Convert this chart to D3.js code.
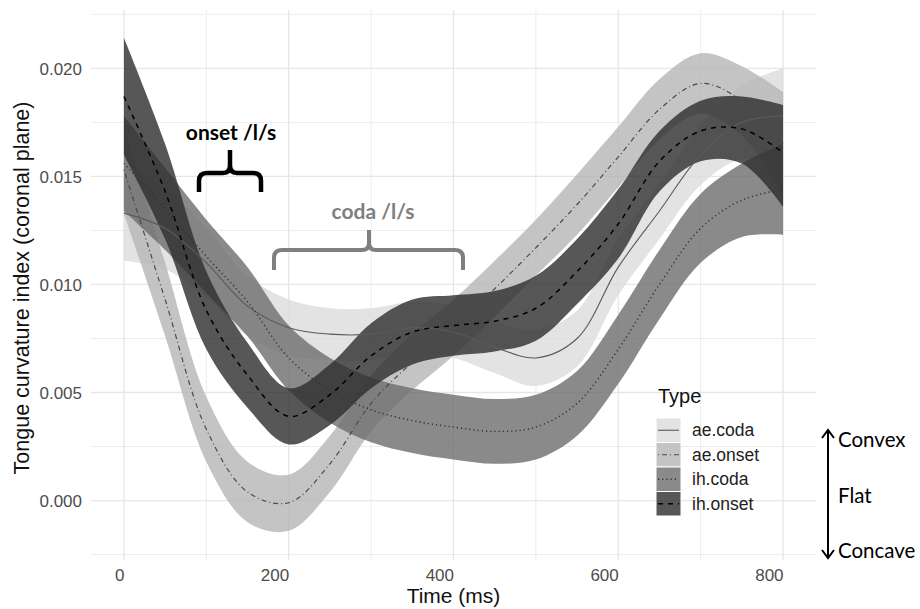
<!DOCTYPE html>
<html>
<head>
<meta charset="utf-8">
<script src="https://cdn.jsdelivr.net/npm/d3@7"></script>
<style>
  body { margin: 0; background: #fff; }
  svg { display: block; }
  .tick text { font-family: "Liberation Sans", Arial, sans-serif; }
</style>
</head>
<body>
<div id="chart"></div>
<script>
// values (Time in ms, curvature index)
var times = [0, 50, 100, 150, 200, 250, 300, 350, 400, 450, 500, 550, 600, 650, 700, 750, 800];
var types = ['ae.coda', 'ae.onset', 'ih.coda', 'ih.onset'];

var aeCodaMean  = [.0133, .0126, .0110, .0090, .0080, .0077, .0077, .0080, .0078, .0071, .0066, .0075, .0108, .0134, .0160, .0175, .0178];
var aeCodaLow   = [.0111, .0107, .0094, .0076, .0067, .0065, .0065, .0068, .0066, .0059, .0053, .0062, .0095, .0121, .0146, .0158, .0156];
var aeCodaHigh  = [.0155, .0145, .0126, .0104, .0093, .0089, .0089, .0092, .0090, .0083, .0079, .0088, .0121, .0147, .0174, .0192, .0200];

var aeOnsetMean = [.0153, .0093, .0033, .0004, -.0001, .0017, .0045, .0064, .0080, .0098, .0117, .0137, .0159, .0181, .0193, .0185, .0165];
var aeOnsetLow  = [.0133, .0076, .0018, -.0010, -.0014, .0004, .0032, .0051, .0067, .0085, .0104, .0123, .0145, .0167, .0179, .0169, .0141];
var aeOnsetHigh = [.0173, .0110, .0048, .0018, .0012, .0030, .0058, .0077, .0093, .0111, .0130, .0151, .0173, .0195, .0207, .0201, .0189];

var ihCodaMean  = [.0156, .0135, .0113, .0092, .0066, .0051, .0042, .0037, .0034, .0032, .0034, .0045, .0070, .0100, .0126, .0139, .0144];
var ihCodaLow   = [.0134, .0116, .0096, .0076, .0051, .0036, .0027, .0022, .0019, .0017, .0019, .0030, .0054, .0084, .0110, .0122, .0123];
var ihCodaHigh  = [.0178, .0154, .0130, .0108, .0081, .0066, .0057, .0052, .0049, .0047, .0049, .0060, .0086, .0116, .0142, .0156, .0165];

var ihOnsetMean = [.0187, .0143, .0088, .0058, .0039, .0049, .0067, .0078, .0081, .0083, .0089, .0106, .0128, .0157, .0171, .0172, .0161];
var ihOnsetLow  = [.0160, .0121, .0070, .0043, .0026, .0035, .0052, .0063, .0067, .0069, .0074, .0091, .0112, .0143, .0157, .0156, .0136];
var ihOnsetHigh = [.0214, .0165, .0106, .0073, .0052, .0063, .0082, .0093, .0095, .0097, .0104, .0121, .0144, .0171, .0185, .0187, .0183];

var xTicks = [0, 200, 400, 600, 800];
var yTicks = [0, 0.005, 0.010, 0.015, 0.020];

var W = 920, H = 609;
var margin = { top: 10, left: 91, bottom: 49, right: 104 };

var svg = d3.select('#chart').append('svg')
    .attr('width', W)
    .attr('height', H);

var x = d3.scaleLinear().domain([-40, 840]).range([margin.left, W - margin.right]);
var y = d3.scaleLinear().domain([-0.00275, 0.0227]).range([H - margin.bottom, margin.top]);

var series = [
    { type: 'ae.coda',  mean: aeCodaMean,  low: aeCodaLow,  high: aeCodaHigh,  fill: '#dcdcdc', line: '#5a5a5a', dash: null,      width: 1.1 },
    { type: 'ae.onset', mean: aeOnsetMean, low: aeOnsetLow, high: aeOnsetHigh, fill: '#b5b5b5', line: '#4a4a4a', dash: '1,3,5,3', width: 1.2 },
    { type: 'ih.coda',  mean: ihCodaMean,  low: ihCodaLow,  high: ihCodaHigh,  fill: '#6d6d6d', line: '#303030', dash: '1.2,3',   width: 1.4 },
    { type: 'ih.onset', mean: ihOnsetMean, low: ihOnsetLow, high: ihOnsetHigh, fill: '#2d2d2d', line: '#000000', dash: '5,5',     width: 1.5 }
];
var alpha = 0.8;

// grid
var grid = svg.append('g');
var xMinor = [100, 300, 500, 700];
var yMinor = [-0.0025, 0.0025, 0.0075, 0.0125, 0.0175, 0.0225];

grid.selectAll('.xminor').data(xMinor).enter().append('line')
    .attr('x1', d => x(d)).attr('x2', d => x(d))
    .attr('y1', y.range()[1]).attr('y2', y.range()[0])
    .attr('stroke', '#ececec').attr('stroke-width', 1);
grid.selectAll('.yminor').data(yMinor).enter().append('line')
    .attr('y1', d => y(d)).attr('y2', d => y(d))
    .attr('x1', x.range()[0]).attr('x2', x.range()[1])
    .attr('stroke', '#ececec').attr('stroke-width', 1);
grid.selectAll('.xmajor').data(xTicks).enter().append('line')
    .attr('x1', d => x(d)).attr('x2', d => x(d))
    .attr('y1', y.range()[1]).attr('y2', y.range()[0])
    .attr('stroke', '#e6e6e6').attr('stroke-width', 1.3);
grid.selectAll('.ymajor').data(yTicks).enter().append('line')
    .attr('y1', d => y(d)).attr('y2', d => y(d))
    .attr('x1', x.range()[0]).attr('x2', x.range()[1])
    .attr('stroke', '#e6e6e6').attr('stroke-width', 1.3);

// ribbons
var area = d3.area()
    .x(d => x(d.t))
    .y0(d => y(d.low))
    .y1(d => y(d.high))
    .curve(d3.curveCatmullRom.alpha(0.5));

var line = d3.line()
    .x(d => x(d.t))
    .y(d => y(d.mean))
    .curve(d3.curveCatmullRom.alpha(0.5));

function rows(s) {
    return times.map((t, i) => ({ t: t, mean: s.mean[i], low: s.low[i], high: s.high[i] }));
}

svg.append('g').selectAll('path')
    .data(series)
    .enter()
    .append('path')
    .attr('d', s => area(rows(s)))
    .attr('fill', s => s.fill)
    .attr('fill-opacity', alpha);

svg.append('g').selectAll('path')
    .data(series)
    .enter()
    .append('path')
    .attr('d', s => line(rows(s)))
    .attr('fill', 'none')
    .attr('stroke', s => s.line)
    .attr('stroke-width', s => s.width)
    .attr('stroke-dasharray', s => s.dash);

// axes
var xAxis = d3.axisBottom(x).tickValues(xTicks).tickSize(0).tickPadding(0).tickFormat(d3.format('d'));
var yAxis = d3.axisLeft(y).tickValues(yTicks).tickSize(0).tickPadding(0).tickFormat(d3.format('.3f'));

var gx = svg.append('g')
    .attr('transform', 'translate(0,' + (H - margin.bottom) + ')')
    .call(xAxis);
gx.select('.domain').remove();
gx.selectAll('text')
    .attr('y', 21)
    .attr('dy', 0)
    .attr('text-anchor', 'end')
    .attr('fill', '#4d4d4d')
    .style('font-size', '17px');

var gy = svg.append('g')
    .attr('transform', 'translate(82,0)')
    .call(yAxis);
gy.select('.domain').remove();
gy.selectAll('text')
    .attr('x', 0)
    .attr('dy', '0.36em')
    .attr('fill', '#4d4d4d')
    .style('font-size', '17px');

svg.append('text')
    .attr('x', (x.range()[0] + x.range()[1]) / 2)
    .attr('y', 603)
    .attr('text-anchor', 'middle')
    .style('font-family', '"Liberation Sans", Arial, sans-serif')
    .style('font-size', '21px')
    .attr('fill', '#111')
    .text('Time (ms)');

svg.append('text')
    .attr('transform', 'translate(29,' + ((y.range()[0] + y.range()[1]) / 2 + 3) + ') rotate(-90)')
    .attr('text-anchor', 'middle')
    .style('font-family', '"Liberation Sans", Arial, sans-serif')
    .style('font-size', '21.5px')
    .attr('fill', '#111')
    .text('Tongue curvature index (coronal plane)');

// legend
var legend = svg.append('g').attr('transform', 'translate(656,418)');
legend.append('text')
    .attr('x', 2).attr('y', -15)
    .style('font-family', '"Liberation Sans", Arial, sans-serif')
    .style('font-size', '20px')
    .attr('fill', '#111')
    .text('Type');

var keys = legend.selectAll('.key')
    .data(series)
    .enter()
    .append('g')
    .attr('transform', (d, i) => 'translate(0,' + (i * 24.5) + ')');
keys.append('rect')
    .attr('width', 25).attr('height', 24.5)
    .attr('fill', d => d.fill)
    .attr('fill-opacity', alpha)
    .attr('stroke', '#fff')
    .attr('stroke-width', 1);
keys.append('line')
    .attr('x1', 2).attr('x2', 23)
    .attr('y1', 12.25).attr('y2', 12.25)
    .attr('stroke', d => d.line)
    .attr('stroke-width', d => d.width)
    .attr('stroke-dasharray', d => d.dash);
keys.append('text')
    .attr('x', 36).attr('y', 12.25)
    .attr('dy', '0.35em')
    .style('font-family', '"Liberation Sans", Arial, sans-serif')
    .style('font-size', '17.5px')
    .attr('fill', '#222')
    .text(d => d.type);

// annotations
var ann = svg.append('g').style('font-family', 'Lato, "Open Sans", sans-serif');

ann.append('text')
    .attr('x', 231).attr('y', 140)
    .attr('text-anchor', 'middle')
    .style('font-size', '21px').style('font-weight', 'bold')
    .attr('fill', '#000')
    .text('onset /l/s');
ann.append('path')
    .attr('d', 'M199,192 L199,181 Q199,173 207,173 L223,173 Q230,173 230,165 L230,150 M230,165 Q230,173 237,173 L253,173 Q261,173 261,181 L261,192')
    .attr('fill', 'none')
    .attr('stroke', '#000')
    .attr('stroke-width', 4.5);

ann.append('text')
    .attr('x', 373).attr('y', 219)
    .attr('text-anchor', 'middle')
    .style('font-size', '21px').style('font-weight', 'bold')
    .attr('fill', '#7f7f7f')
    .text('coda /l/s');
ann.append('path')
    .attr('d', 'M274,270 L274,258 Q274,250 282,250 L362,250 Q369,250 369,243 L369,230 M369,243 Q369,250 376,250 L455,250 Q463,250 463,258 L463,270')
    .attr('fill', 'none')
    .attr('stroke', '#7f7f7f')
    .attr('stroke-width', 4);

ann.append('line')
    .attr('x1', 828).attr('x2', 828)
    .attr('y1', 430).attr('y2', 558)
    .attr('stroke', '#000').attr('stroke-width', 2);
ann.append('path')
    .attr('d', 'M822,438 L828,430 L834,438 M822,550 L828,558 L834,550')
    .attr('fill', 'none')
    .attr('stroke', '#000').attr('stroke-width', 2);

ann.selectAll('.side')
    .data([['Convex', 447], ['Flat', 503], ['Concave', 558]])
    .enter()
    .append('text')
    .attr('x', 838).attr('y', d => d[1])
    .style('font-size', '20.5px')
    .attr('fill', '#000')
    .text(d => d[0]);
</script>
</body>
</html>
